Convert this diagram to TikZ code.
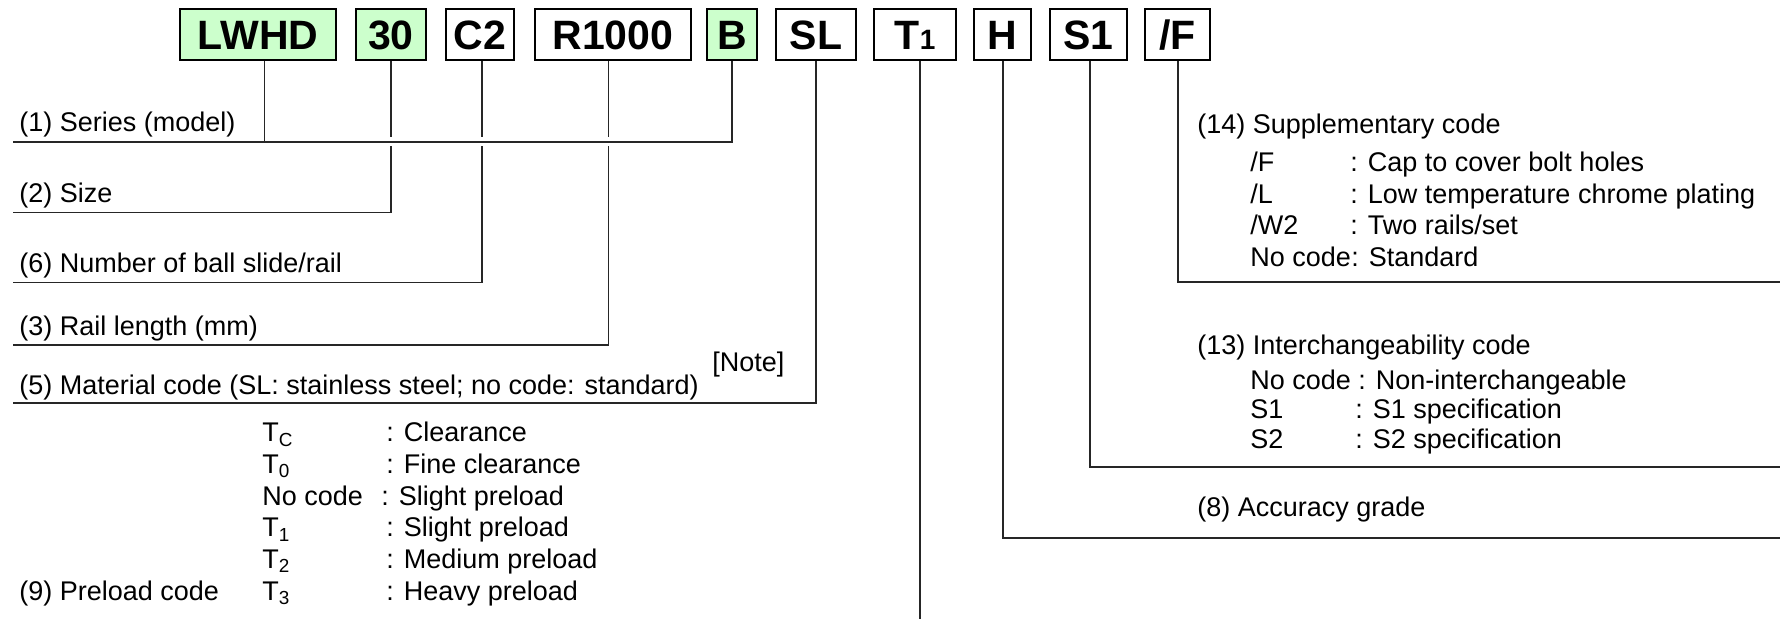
\documentclass[tikz,border=0pt]{standalone}
\usepackage{fontspec}
\setmainfont{Liberation Sans}
\definecolor{boxgreen}{RGB}{204,255,204}
\begin{document}
\begin{tikzpicture}[x=0.5pt,y=-0.5pt,
  cbox/.style={draw=black,line width=1.2pt,minimum height=25.5pt,inner sep=0pt,
    font=\fontsize{20.5}{24}\selectfont\bfseries,text height=14.7pt,text depth=0pt},
  gbox/.style={cbox,fill=boxgreen},
  lbl/.style={anchor=base west,inner sep=0pt,font=\fontsize{13.5}{16}\selectfont},
  conn/.style={line width=0.75pt,draw=black!85}]
\useasboundingbox (0,0) rectangle (1780,619);

% code boxes
\node[gbox,minimum width=78pt] (lwhd) at (258,34.5) {LWHD};
\node[gbox,minimum width=35pt] (n30) at (391,34.5) {30};
\node[cbox,minimum width=34pt] (c2) at (480,34.5) {C2};
\node[cbox,minimum width=78pt] (r1000) at (613,34.5) {R1000};
\node[gbox,minimum width=25pt] (bb) at (732,34.5) {B};
\node[cbox,minimum width=40pt] (sl) at (816,34.5) {SL};
\node[cbox,minimum width=41pt] (t1) at (915,34.5) {T{\fontsize{14}{16}\selectfont 1}};
\node[cbox,minimum width=28.5pt] (hh) at (1002.5,34.5) {H};
\node[cbox,minimum width=38.5pt] (s1) at (1088.5,34.5) {S1};
\node[cbox,minimum width=32.5pt] (ff) at (1177.5,34.5) {/F};

% column and row coordinates
\coordinate (xl) at (264.5,0);
\coordinate (x30) at (391,0);
\coordinate (xc) at (482,0);
\coordinate (xr) at (608.5,0);
\coordinate (xb) at (732,0);
\coordinate (xs) at (816,0);
\coordinate (xt) at (920,0);
\coordinate (xh) at (1003,0);
\coordinate (xs1) at (1090,0);
\coordinate (xf) at (1178,0);
\coordinate (ga) at (0,137.5);
\coordinate (gb) at (0,146.5);

\coordinate (e1) at (13,142);
\coordinate (e2) at (13,212.7);
\coordinate (e6) at (13,282.7);
\coordinate (e3) at (13,345);
\coordinate (e5) at (13,403);
\coordinate (et) at (920,619);
\coordinate (eh) at (1780,538);
\coordinate (es) at (1780,467);
\coordinate (ef) at (1780,282);

% connectors
\draw[conn] (e1) -- (xb |- e1) -- (bb.south -| xb);
\draw[conn] (lwhd.south -| xl) -- (xl |- e1);
\draw[conn] (n30.south -| x30) -- (x30 |- ga);
\draw[conn] (x30 |- gb) -- (x30 |- e2) -- (e2);
\draw[conn] (c2.south -| xc) -- (xc |- ga);
\draw[conn] (xc |- gb) -- (xc |- e6) -- (e6);
\draw[conn] (r1000.south -| xr) -- (xr |- ga);
\draw[conn] (xr |- gb) -- (xr |- e3) -- (e3);
\draw[conn] (sl.south -| xs) -- (xs |- e5) -- (e5);
\draw[conn] (t1.south -| xt) -- (et);
\draw[conn] (hh.south -| xh) -- (xh |- eh) -- (eh);
\draw[conn] (s1.south -| xs1) -- (xs1 |- es) -- (es);
\draw[conn] (ff.south -| xf) -- (xf |- ef) -- (ef);

% left labels
\node[lbl] (l1) at (19,132) {(1) Series (model)};
\node[lbl] (l2) at (19,203) {(2) Size};
\node[lbl] (l6) at (19,273) {(6) Number of ball slide/rail};
\node[lbl] (l3) at (19,336) {(3) Rail length (mm)};
\node[lbl] (l5) at (19,394) {(5) Material code (SL: stainless steel; no code: standard)};
\node[lbl] (note) at (712,372) {[Note]};

% preload
\node[lbl] (p9) at (19,600) {(9) Preload code};
\node[lbl] (pc1) at (262,442) {T\textsubscript{C}};
\node[lbl] (pd1) at (386,442) {: Clearance};
\node[lbl] (pc2) at (262,473.6) {T\textsubscript{0}};
\node[lbl] (pd2) at (386,473.6) {: Fine clearance};
\node[lbl] (pc3) at (262,505.2) {No code};
\node[lbl] (pd3) at (381,505.2) {: Slight preload};
\node[lbl] (pc4) at (262,536.8) {T\textsubscript{1}};
\node[lbl] (pd4) at (386,536.8) {: Slight preload};
\node[lbl] (pc5) at (262,568.4) {T\textsubscript{2}};
\node[lbl] (pd5) at (386,568.4) {: Medium preload};
\node[lbl] (pc6) at (262,600) {T\textsubscript{3}};
\node[lbl] (pd6) at (386,600) {: Heavy preload};

% (14)
\node[lbl] (s14) at (1197,134) {(14) Supplementary code};
\node[lbl] (s14a) at (1250,172) {/F};
\node[lbl] (s14ad) at (1350,172) {: Cap to cover bolt holes};
\node[lbl] (s14b) at (1250,203.5) {/L};
\node[lbl] (s14bd) at (1350,203.5) {: Low temperature chrome plating};
\node[lbl] (s14c) at (1250,235) {/W2};
\node[lbl] (s14cd) at (1350,235) {: Two rails/set};
\node[lbl] (s14d) at (1250,266.5) {No code};
\node[lbl] (s14dd) at (1351,266.5) {: Standard};

% (13)
\node[lbl] (s13) at (1197,355) {(13) Interchangeability code};
\node[lbl] (s13a) at (1250,390) {No code : Non-interchangeable};
\node[lbl] (s13b) at (1250,419) {S1};
\node[lbl] (s13bd) at (1355,419) {: S1 specification};
\node[lbl] (s13c) at (1250,448) {S2};
\node[lbl] (s13cd) at (1355,448) {: S2 specification};

% (8)
\node[lbl] (s8) at (1197,516) {(8) Accuracy grade};
\end{tikzpicture}
\end{document}
